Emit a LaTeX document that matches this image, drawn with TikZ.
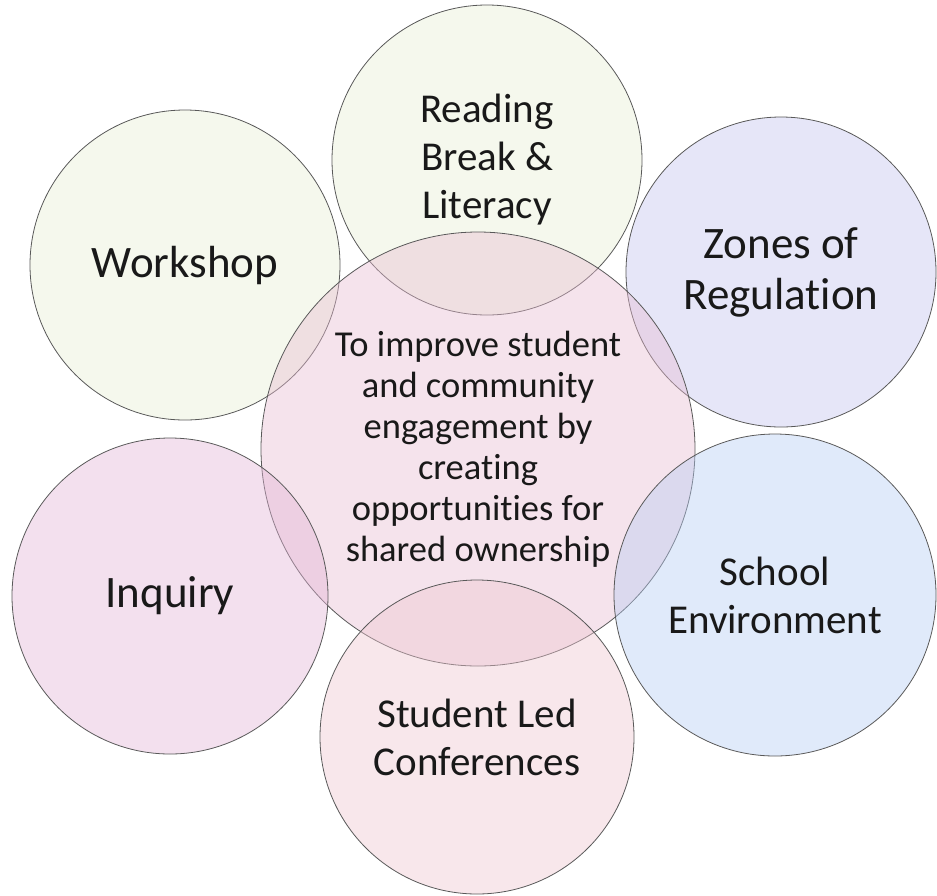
\documentclass[tikz,border=0pt]{standalone}
\usepackage{fontspec}
\setmainfont{Carlito}[Ligatures=NoCommon]
\usetikzlibrary{positioning}

\definecolor{leafgreen}{RGB}{230,238,212}
\definecolor{lavender}{RGB}{196,196,238}
\definecolor{skyblue}{RGB}{182,204,242}
\definecolor{rosepink}{RGB}{226,180,214}
\definecolor{blushpink}{RGB}{232,188,210}
\definecolor{peachpink}{RGB}{238,198,208}

\tikzset{x=1pt, y=-1pt, % one unit is one pixel of the picture, y goes down
every node/.style={align=center, text=black!90},
topic/.style={circle, draw=black!65, line width=0.8pt, fill opacity=0.42, text opacity=1, inner sep=0pt}, % sets the look of each circle
small/.style={minimum size=310pt, font=\fontsize{41}{48}\selectfont}, % circles round the middle
hub/.style={minimum size=434pt, font=\fontsize{36.5}{41}\selectfont}, % the middle circle
}

\begin{document}
\begin{tikzpicture}
\useasboundingbox (0,0) rectangle (937,895);
\node[topic, small, fill=leafgreen] (reading) at (487,160) {Reading\\Break \&\\Literacy};
\node[topic, small, fill=leafgreen, font=\fontsize{45}{50}\selectfont] (workshop) at (185,265) {Workshop};
\node[topic, small, fill=lavender, font=\fontsize{45}{51}\selectfont] (zones) at (781,272) {Zones of\\Regulation};
\node[topic, hub, fill=blushpink] (goal) at (478,449) {To improve student\\and community\\engagement by\\creating\\opportunities for\\shared ownership};
\node[topic, small, minimum size=316pt, fill=rosepink, font=\fontsize{45}{50}\selectfont] (inquiry) at (170,596) {Inquiry};
\node[topic, small, minimum size=322pt, fill=skyblue] (school) at (775,595) {School\\Environment};
\node[topic, small, minimum size=314pt, fill=peachpink] (conf) at (477,737) {Student Led\\Conferences};
\end{tikzpicture}
\end{document}
